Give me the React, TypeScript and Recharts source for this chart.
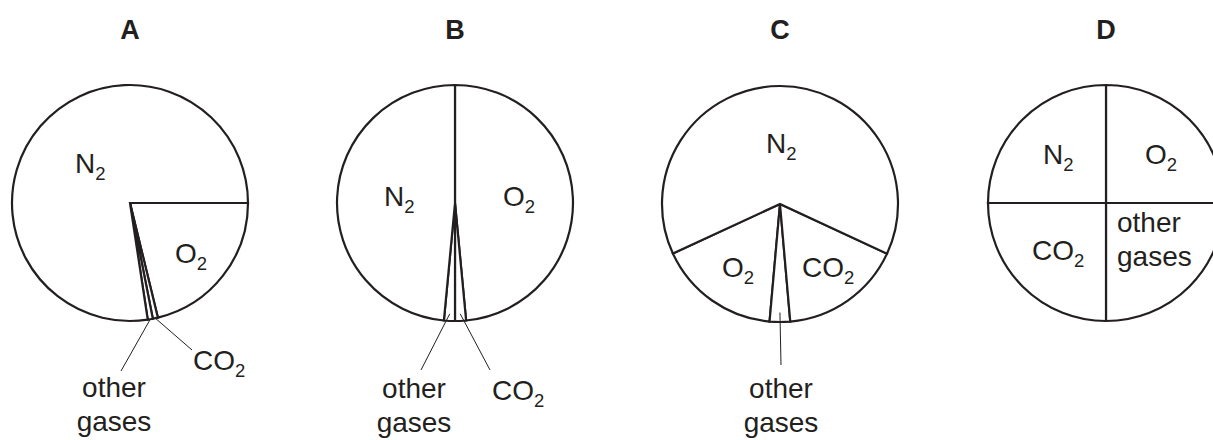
import React from 'react';
import { PieChart, Pie } from 'recharts';

// clockwise / counter-clockwise order of the sectors as drawn in each pie
const gasesA = ['O2', 'CO2', 'other gases', 'N2'];
const sharesA = [21.2, 0.7, 0.7, 77.4];

const gasesB = ['O2', 'CO2', 'other gases', 'N2'];
const sharesB = [48.5, 1.5, 1.5, 48.5];

const gasesC = ['O2', 'other gases', 'CO2', 'N2'];
const sharesC = [16.7, 2.8, 16.7, 63.8];

const gasesD = ['O2', 'other gases', 'CO2', 'N2'];
const sharesD = [25, 25, 25, 25];

const titles = ['A', 'B', 'C', 'D'];

const ink = '#231f20';
const font = '"Liberation Sans", Arial, Helvetica, sans-serif';
const RAD = Math.PI / 180;

type Spot = {
  dx: number;
  dy: number;
  anchor?: 'start' | 'middle' | 'end';
  lead?: { r: number; ex: number; ey: number };
};

// label placement, offsets from the pie centre
const layoutA: Record<string, Spot> = {
  N2: { dx: -55, dy: -30 },
  O2: { dx: 45, dy: 60 },
  'other gases': { dx: -16, dy: 194, anchor: 'middle', lead: { r: 1, ex: -9, ey: 168 } },
  CO2: { dx: 63, dy: 167, lead: { r: 1, ex: 62, ey: 147 } },
};
const layoutB: Record<string, Spot> = {
  N2: { dx: -71, dy: 3 },
  O2: { dx: 48, dy: 3 },
  'other gases': { dx: -41, dy: 195, anchor: 'middle', lead: { r: 0.94, ex: -34, ey: 167 } },
  CO2: { dx: 37, dy: 197, lead: { r: 0.94, ex: 35, ey: 167 } },
};
const layoutC: Record<string, Spot> = {
  N2: { dx: -14, dy: -51 },
  O2: { dx: -58, dy: 73 },
  CO2: { dx: 22, dy: 73 },
  'other gases': { dx: 1, dy: 194, anchor: 'middle', lead: { r: 0.92, ex: 1, ey: 161 } },
};
const layoutD: Record<string, Spot> = {
  N2: { dx: -63, dy: -39 },
  O2: { dx: 39, dy: -39 },
  CO2: { dx: -74, dy: 57 },
  'other gases': { dx: 11, dy: 29 },
};

const pies = [
  { gases: gasesA, shares: sharesA, cx: 130, cy: 203, start: 0, end: -360, layout: layoutA },
  { gases: gasesB, shares: sharesB, cx: 455, cy: 203, start: 90, end: -270, layout: layoutB },
  { gases: gasesC, shares: sharesC, cx: 780, cy: 204, start: 204.8, end: 564.8, layout: layoutC },
  { gases: gasesD, shares: sharesD, cx: 1106, cy: 203, start: 90, end: -270, layout: layoutD },
];

const GasText = ({ x, y, text, anchor }: { x: number; y: number; text: string; anchor: string }) => {
  const m = text.match(/^([A-Za-z]+)(\d)$/);
  if (m) {
    return (
      <text x={x} y={y} fill={ink} fontSize={28} fontFamily={font} textAnchor={anchor}>
        <tspan>{m[1]}</tspan>
        <tspan dy={7} fontSize={18.5}>{m[2]}</tspan>
      </text>
    );
  }
  return (
    <text fill={ink} fontSize={28} fontFamily={font} textAnchor={anchor}>
      {text.split(' ').map((word, i) => (
        <tspan key={i} x={x} y={y + i * 34}>{word}</tspan>
      ))}
    </text>
  );
};

const makeLabel = (layout: Record<string, Spot>) => (props: any) => {
  const key = props.payload?.gas ?? props.name;
  const spot = layout[key];
  if (!spot) return null;
  const { cx, cy, midAngle, outerRadius } = props;
  let line = null;
  if (spot.lead) {
    const r = outerRadius * spot.lead.r;
    const sx = cx + r * Math.cos(-midAngle * RAD);
    const sy = cy + r * Math.sin(-midAngle * RAD);
    line = <line x1={sx} y1={sy} x2={cx + spot.lead.ex} y2={cy + spot.lead.ey} stroke={ink} strokeWidth={1} />;
  }
  return (
    <g>
      {line}
      <GasText x={cx + spot.dx} y={cy + spot.dy} text={key} anchor={spot.anchor ?? 'start'} />
    </g>
  );
};

const App = () => {
  return (
    <div style={{ position: 'absolute', left: 0, top: 0, width: 1213, height: 440, background: '#fff' }}>
      <PieChart width={1213} height={440} margin={{ top: 0, right: 0, bottom: 0, left: 0 }}>
        {pies.map((p, i) => (
          <Pie
            key={titles[i]}
            data={p.gases.map((gas, j) => ({ gas, share: p.shares[j] }))}
            dataKey="share"
            nameKey="gas"
            cx={p.cx}
            cy={p.cy}
            outerRadius={118}
            startAngle={p.start}
            endAngle={p.end}
            fill="#fff"
            stroke={ink}
            strokeWidth={2.2}
            label={makeLabel(p.layout)}
            labelLine={false}
            isAnimationActive={false}
          />
        ))}
      </PieChart>
      <svg width={1213} height={440} style={{ position: 'absolute', left: 0, top: 0, pointerEvents: 'none' }}>
        {pies.map((p, i) => (
          <text
            key={titles[i]}
            x={p.cx}
            y={39}
            textAnchor="middle"
            fontFamily={font}
            fontWeight="bold"
            fontSize={27}
            fill={ink}
          >
            {titles[i]}
          </text>
        ))}
      </svg>
    </div>
  );
};

export default App;
